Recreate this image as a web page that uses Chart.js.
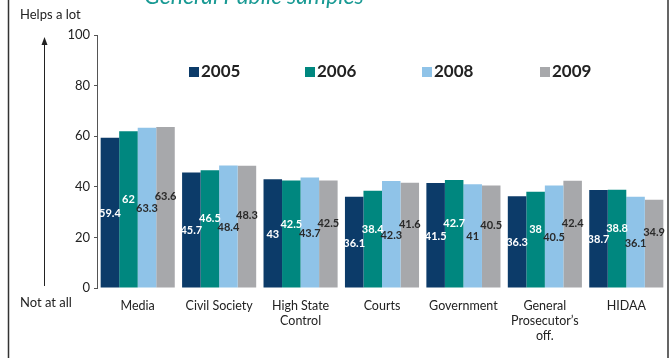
<!DOCTYPE html>
<html>
<head>
<meta charset="utf-8">
<script src="https://cdn.jsdelivr.net/npm/chart.js@4.4.1/dist/chart.umd.min.js"></script>
<style>
  html, body { margin: 0; padding: 0; background: #fff; }
  canvas { display: block; }
</style>
</head>
<body>
<canvas id="myChart" width="671" height="358"></canvas>
<script>
// institutions rated, one group of bars each
const categories = ['Media', 'Civil Society', ['High State', 'Control'], 'Courts', 'Government', ['General', 'Prosecutor\u2019s', 'off.'], 'HIDAA'];
const years = ['2005', '2006', '2008', '2009'];
const values2005 = [59.4, 45.7, 43, 36.1, 41.5, 36.3, 38.7];
const values2006 = [62, 46.5, 42.5, 38.4, 42.7, 38, 38.8];
const values2008 = [63.3, 48.4, 43.7, 42.3, 41, 40.5, 36.1];
const values2009 = [63.6, 48.3, 42.5, 41.6, 40.5, 42.4, 34.9];
const yTicks = [0, 20, 40, 60, 80, 100];

const barColors = ['#0c3b69', '#00877f', '#8fc3e8', '#a7a8ab'];
const labelColors = ['#ffffff', '#ffffff', '#2a2a2a', '#2a2a2a'];
const labelShift = [1, -10, 1, -11];   // vertical nudge of the value labels per year
const FONT = 'Lato, "DejaVu Sans", sans-serif';

const seriesValues = [values2005, values2006, values2008, values2009];

// value written inside each bar
const valueLabels = {
    id: 'valueLabels',
    afterDatasetsDraw(chart) {
        const ctx = chart.ctx;
        ctx.save();
        ctx.font = 'bold 11px ' + FONT;
        ctx.textAlign = 'center';
        ctx.textBaseline = 'middle';
        chart.data.datasets.forEach((ds, i) => {
            chart.getDatasetMeta(i).data.forEach((bar, j) => {
                const y = (bar.y + bar.base) / 2 + labelShift[i];
                ctx.fillStyle = labelColors[i];
                ctx.fillText(String(ds.data[j]), bar.x, y);
            });
        });
        ctx.restore();
    }
};

// frame, arrow, side captions, title and the legend row
const decorations = {
    id: 'decorations',
    afterDraw(chart) {
        const ctx = chart.ctx;
        const yScale = chart.scales.y;
        ctx.save();

        ctx.strokeStyle = '#333';
        ctx.lineWidth = 1.5;
        ctx.beginPath();
        ctx.moveTo(8.5, 0); ctx.lineTo(8.5, 358);
        ctx.moveTo(668, 0); ctx.lineTo(668, 358);
        ctx.stroke();

        // arrow up the left side
        ctx.lineWidth = 1;
        ctx.strokeStyle = '#222';
        ctx.beginPath();
        ctx.moveTo(44.5, yScale.getPixelForValue(0) - 2);
        ctx.lineTo(44.5, 42);
        ctx.stroke();
        ctx.fillStyle = '#222';
        ctx.beginPath();
        ctx.moveTo(44.5, 37);
        ctx.lineTo(41.5, 45);
        ctx.lineTo(47.5, 45);
        ctx.closePath();
        ctx.fill();

        ctx.fillStyle = '#222';
        ctx.font = '13px ' + FONT;
        ctx.textAlign = 'left';
        ctx.textBaseline = 'middle';
        ctx.fillText('Helps a lot', 20, 15);
        ctx.fillText('Not at all', 20, 303);

        ctx.fillStyle = '#1a9a94';
        ctx.font = 'italic 23px ' + FONT;
        ctx.textAlign = 'center';
        ctx.textBaseline = 'alphabetic';
        ctx.fillText('General Public samples', 254, 4);

        // legend
        const legendX = [189, 305, 422, 540];
        ctx.font = 'bold 17px ' + FONT;
        ctx.textAlign = 'left';
        ctx.textBaseline = 'middle';
        years.forEach((yr, i) => {
            ctx.fillStyle = barColors[i];
            ctx.fillRect(legendX[i], 67, 10, 10);
            ctx.fillStyle = '#222';
            ctx.fillText(yr, legendX[i] + 12, 72);
        });
        ctx.restore();
    }
};

new Chart('myChart', {
    type: 'bar',
    data: {
        labels: categories,
        datasets: years.map((yr, i) => ({
            label: yr,
            data: seriesValues[i],
            backgroundColor: barColors[i],
            borderWidth: 0,
            barPercentage: 1,
            categoryPercentage: 0.91,
        })),
    },
    options: {
        responsive: false,
        animation: false,
        layout: { padding: { left: 57, right: 4, top: 35, bottom: 0 } },
        plugins: {
            legend: { display: false },
            tooltip: { enabled: false },
        },
        scales: {
            x: {
                grid: { display: false },
                border: { display: false },
                ticks: {
                    color: '#222',
                    font: { family: FONT, size: 12.5 },
                    padding: 2,
                    maxRotation: 0,
                    autoSkip: false,
                },
                afterFit: (s) => { s.height = 70; },
            },
            y: {
                min: 0,
                max: 100,
                afterBuildTicks: (s) => { s.ticks = yTicks.map(v => ({ value: v })); },
                grid: { drawOnChartArea: false, drawTicks: true, tickLength: 3, color: '#555' },
                border: { display: true, color: '#555', width: 1 },
                ticks: {
                    color: '#222',
                    font: { family: FONT, size: 13 },
                    padding: 4,
                },
                afterFit: (s) => { s.width = 40; },
            },
        },
    },
    plugins: [valueLabels, decorations],
});
</script>
</body>
</html>
